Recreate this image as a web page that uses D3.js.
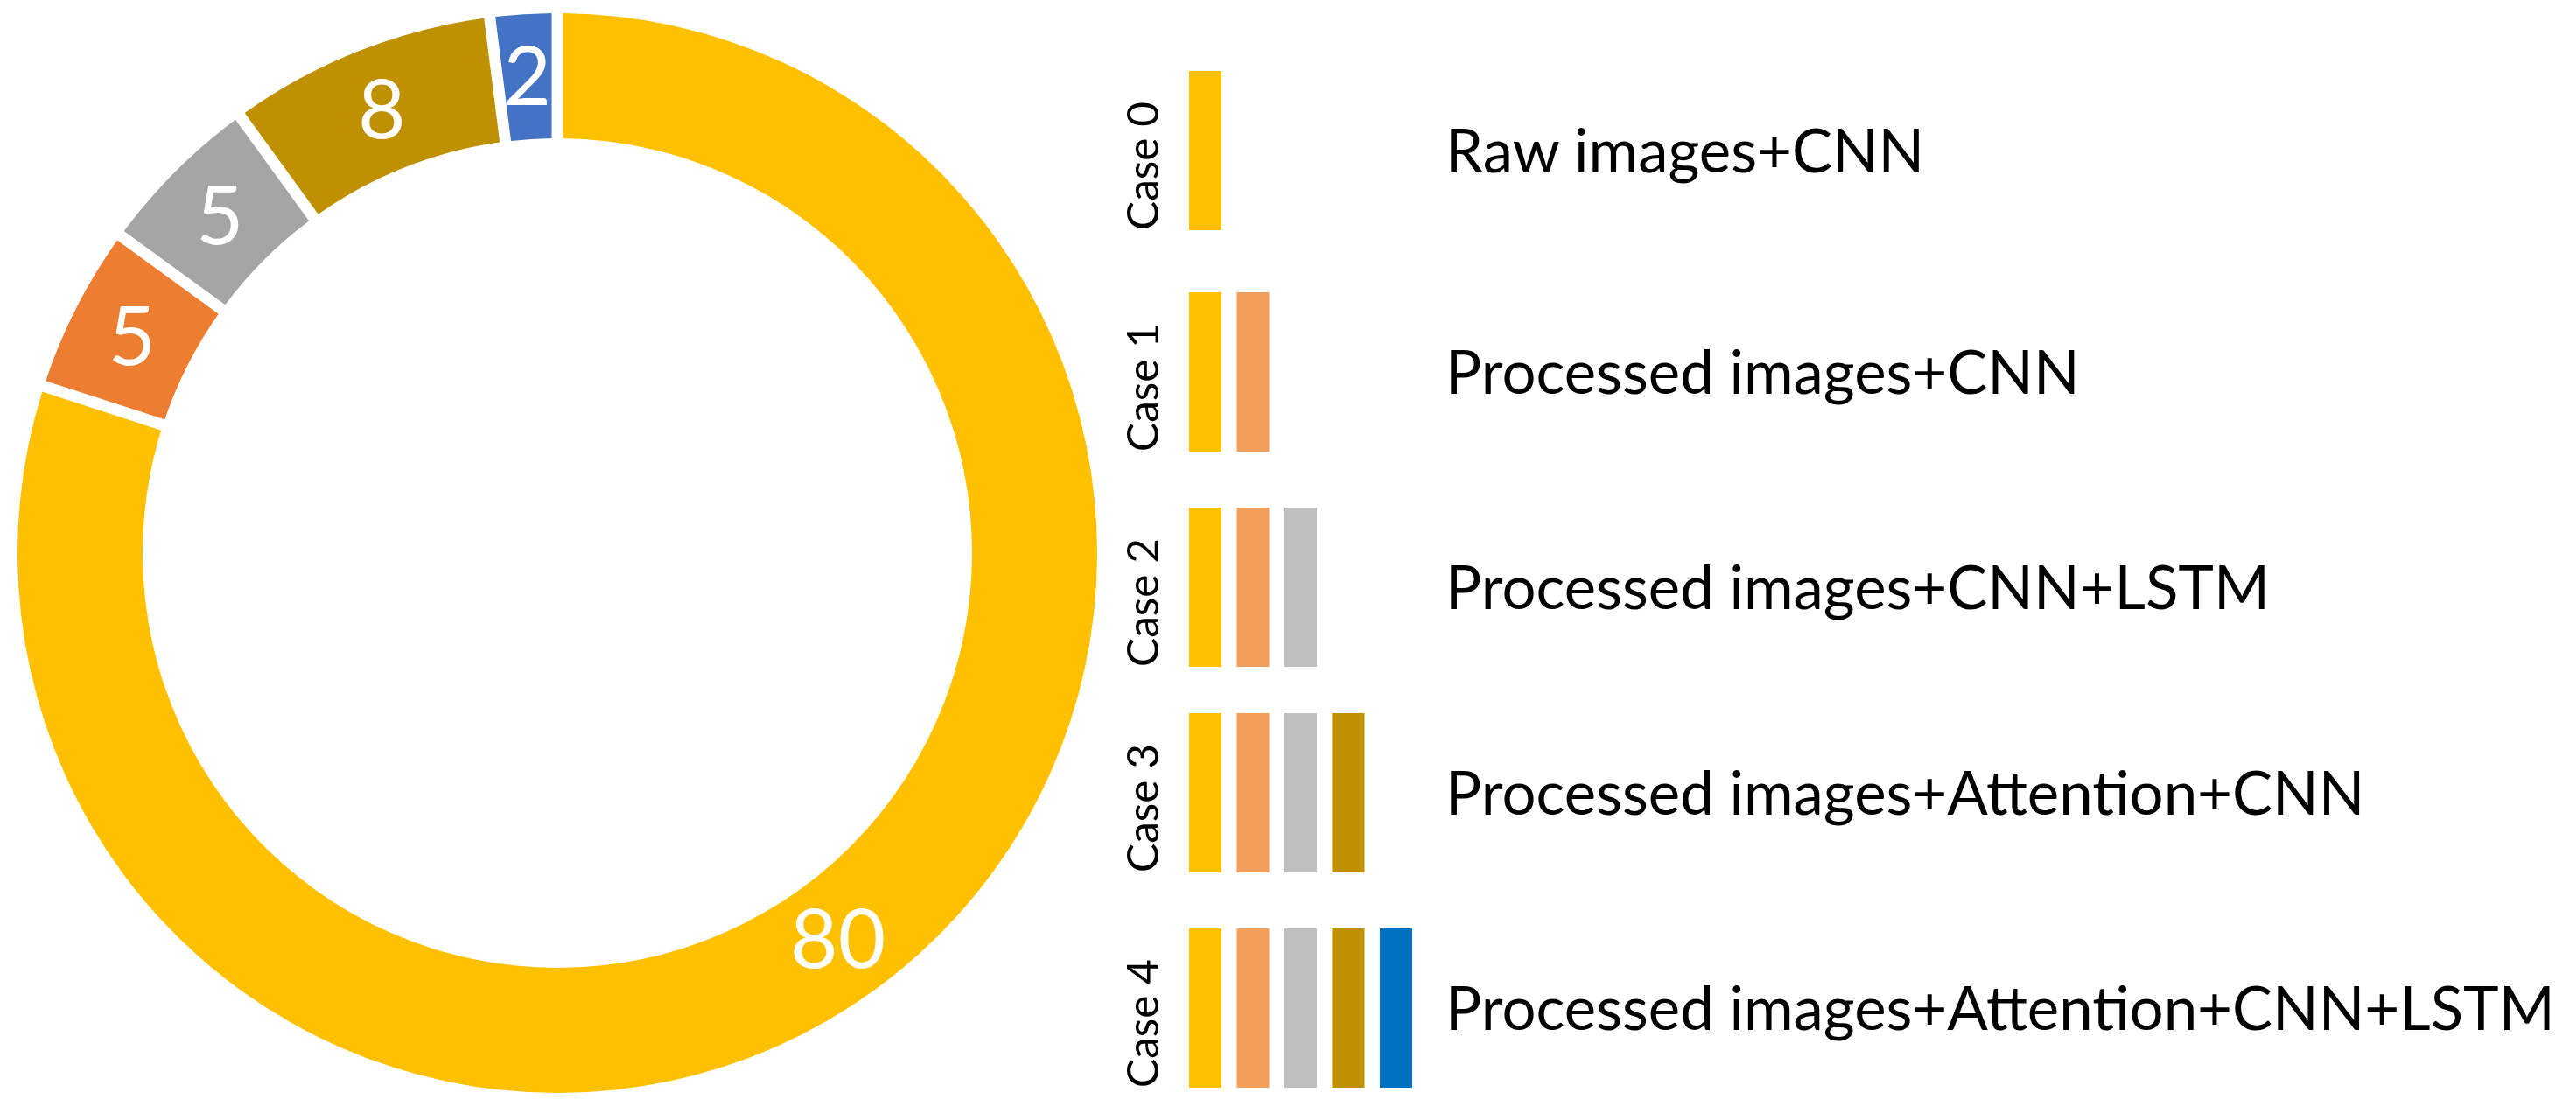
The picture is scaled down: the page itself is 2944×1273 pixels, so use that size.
<!DOCTYPE html>
<html>
<head>
<meta charset="utf-8">
<script src="https://cdn.jsdelivr.net/npm/d3@7/dist/d3.min.js"></script>
<style>
  html, body { margin: 0; padding: 0; background: #ffffff; }
  svg { display: block; }
</style>
</head>
<body>
<script>
// ---- data ----
const sliceValues = [80, 5, 5, 8, 2];
const sliceColors = ["#FFC000", "#ED7D31", "#A5A5A5", "#BF9000", "#4472C4"];
const caseLabels = ["Case 0", "Case 1", "Case 2", "Case 3", "Case 4"];
const caseDescriptions = [
  "Raw images+CNN",
  "Processed images+CNN",
  "Processed images+CNN+LSTM",
  "Processed images+Attention+CNN",
  "Processed images+Attention+CNN+LSTM"
];
const barsPerCase = [1, 2, 3, 4, 5];
const legendColors = ["#FFC000", "#F49E5B", "#BFBFBF", "#BF9000", "#0070C0"];

// ---- layout ----
const W = 2944, H = 1273;
const FONT = "Lato, 'Open Sans', sans-serif";
const svg = d3.select("body").append("svg").attr("width", W).attr("height", H);

// donut
const cx = 637, cy = 632, rOuter = 617, rInner = 474, gap = 13;
const pie = d3.pie().sort(null).value(d => d).startAngle(0).endAngle(2 * Math.PI);
const arc = d3.arc()
  .innerRadius(rInner).outerRadius(rOuter)
  .padRadius(rOuter).padAngle(2 * Math.asin((gap / 2) / rOuter));
const labelArc = d3.arc().innerRadius((rInner + rOuter) / 2).outerRadius((rInner + rOuter) / 2);

const g = svg.append("g").attr("transform", `translate(${cx},${cy})`);
const arcs = pie(sliceValues);
g.selectAll("path.slice").data(arcs).join("path")
  .attr("class", "slice")
  .attr("d", arc)
  .attr("fill", (d, i) => sliceColors[i]);
g.selectAll("text.val").data(arcs).join("text")
  .attr("class", "val")
  .attr("transform", d => `translate(${labelArc.centroid(d)})`)
  .attr("text-anchor", "middle")
  .attr("dy", "0.35em")
  .attr("fill", "#ffffff")
  .style("font-family", FONT)
  .style("font-size", "94px")
  .text(d => d.data);

// legend
const yCase = d3.scaleOrdinal().domain(caseLabels).range([172, 425, 671, 906, 1152]);
const barH = 182;
const xBar = d3.scaleBand().domain(d3.range(5)).range([1359, 1614]).paddingInner(0.32).paddingOuter(0);

const rows = svg.selectAll("g.row").data(caseLabels).join("g")
  .attr("class", "row")
  .attr("transform", d => `translate(0,${yCase(d)})`);

rows.selectAll("rect").data((d, i) => d3.range(barsPerCase[i])).join("rect")
  .attr("x", j => xBar(j))
  .attr("y", -barH / 2)
  .attr("width", xBar.bandwidth())
  .attr("height", barH)
  .attr("fill", j => legendColors[j]);

const caseText = rows.append("text")
  .attr("transform", `translate(1324,${barH / 2}) rotate(-90)`)
  .attr("text-anchor", "start")
  .attr("fill", "#000")
  .style("font-family", FONT)
  .style("font-size", "52px")
  .text(d => d);

const descText = rows.append("text")
  .attr("x", 1652)
  .attr("y", 25)
  .attr("fill", "#000")
  .style("font-family", FONT)
  .style("font-size", "70px")
  .text((d, i) => caseDescriptions[i]);

// fit text widths to the reference
function fit(sel, node, target, base) {
  const w = node.getComputedTextLength();
  if (w > 0) sel.style("font-size", (base * target / w).toFixed(2) + "px");
}
fit(descText, descText.nodes()[4], 1268, 70);
fit(caseText, caseText.nodes()[0], 147, 52);
</script>
</body>
</html>
